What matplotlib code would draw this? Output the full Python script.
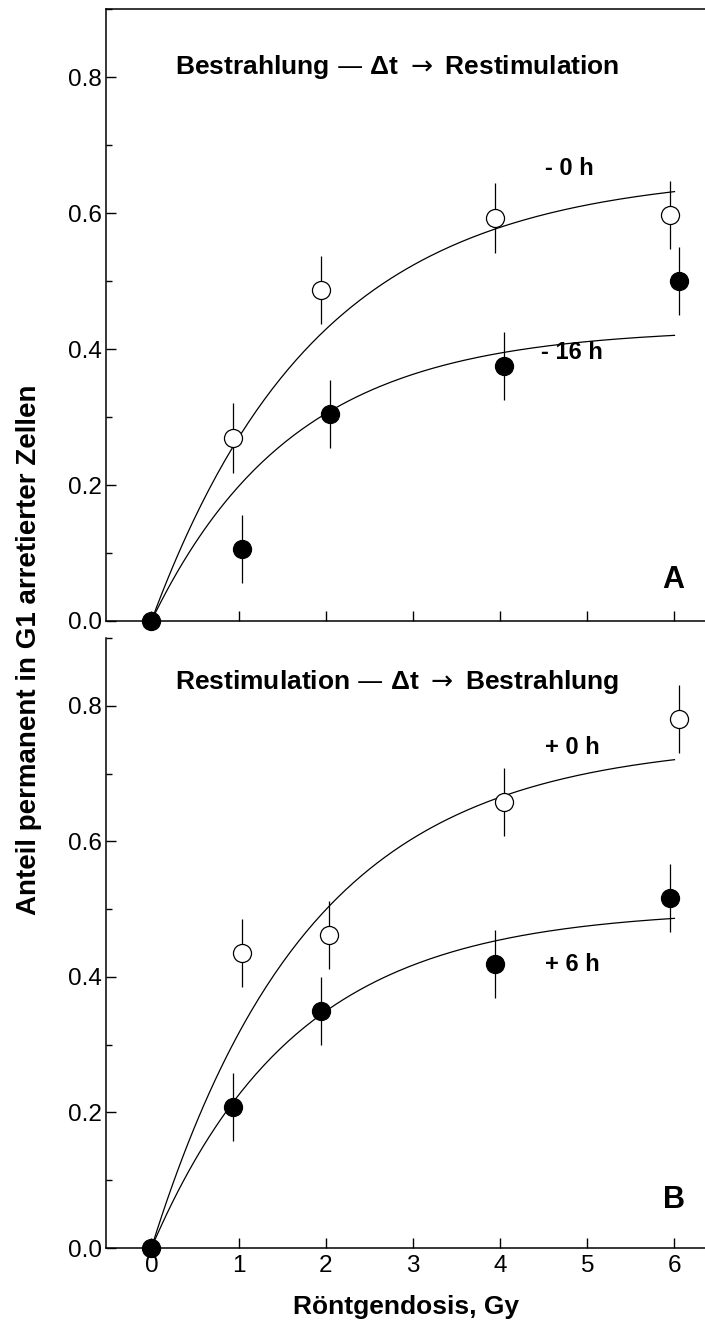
import numpy as np
import matplotlib.pyplot as plt

plt.rcParams['font.family'] = ['Liberation Sans', 'DejaVu Sans']

# panel A: Bestrahlung -> Restimulation
a_open_x = [0.94, 1.95, 3.94, 5.95]
a_open_y = [0.269, 0.487, 0.593, 0.598]
a_open_err = [0.051, 0.05, 0.051, 0.05]
a_fill_x = [0.0, 1.04, 2.05, 4.05, 6.05]
a_fill_y = [0.0, 0.106, 0.305, 0.375, 0.50]
a_fill_err = [0.0, 0.05, 0.05, 0.05, 0.05]
# fitted saturation curves y = amp * (1 - exp(-rate * dose))
a_open_fit = (0.66, 0.525)
a_fill_fit = (0.431, 0.615)

# panel B: Restimulation -> Bestrahlung
b_open_x = [1.04, 2.04, 4.05, 6.05]
b_open_y = [0.435, 0.462, 0.658, 0.78]
b_open_err = [0.05, 0.05, 0.05, 0.05]
b_fill_x = [0.0, 0.94, 1.94, 3.94, 5.95]
b_fill_y = [0.0, 0.208, 0.35, 0.419, 0.516]
b_fill_err = [0.0, 0.05, 0.05, 0.05, 0.05]
b_open_fit = (0.748, 0.55)
b_fill_fit = (0.50, 0.60)

fig = plt.figure(figsize=(7.05, 13.26), dpi=100)
ax1 = fig.add_axes([0.1504, 0.5317, 0.8496, 0.4613])
ax2 = fig.add_axes([0.1504, 0.0588, 0.8496, 0.4601])

dose = np.linspace(0, 6, 200)


def draw(ax, ox, oy, oe, fx, fy, fe, ofit, ffit):
    ax.plot(dose, ofit[0] * (1 - np.exp(-ofit[1] * dose)), color='black', lw=0.9, zorder=2)
    ax.plot(dose, ffit[0] * (1 - np.exp(-ffit[1] * dose)), color='black', lw=0.9, zorder=2)
    ax.errorbar(ox, oy, yerr=oe, fmt='o', ms=13, mfc='white', mec='black', mew=0.9,
                ecolor='black', elinewidth=0.9, capsize=0, zorder=3, clip_on=False)
    ax.errorbar(fx, fy, yerr=fe, fmt='o', ms=13, mfc='black', mec='black', mew=0.9,
                ecolor='black', elinewidth=0.9, capsize=0, zorder=3, clip_on=False)
    ax.set_xlim(-0.52, 6.35)
    ax.set_ylim(0, 0.9)
    ax.set_xticks([0, 1, 2, 3, 4, 5, 6])
    ax.set_yticks([0.0, 0.2, 0.4, 0.6, 0.8])
    ax.set_yticks([0.1, 0.3, 0.5, 0.7, 0.9], minor=True)
    ax.yaxis.set_major_formatter(plt.FormatStrFormatter('%.1f'))
    ax.tick_params(which='major', direction='in', length=7, width=1, labelsize=17.5)
    ax.tick_params(which='minor', direction='in', length=4.5, width=1)
    ax.tick_params(axis='y', pad=3)
    ax.tick_params(axis='x', pad=5)
    ax.spines['right'].set_visible(False)
    for s in ['left', 'bottom', 'top']:
        ax.spines[s].set_linewidth(1.1)


draw(ax1, a_open_x, a_open_y, a_open_err, a_fill_x, a_fill_y, a_fill_err, a_open_fit, a_fill_fit)
draw(ax2, b_open_x, b_open_y, b_open_err, b_fill_x, b_fill_y, b_fill_err, b_open_fit, b_fill_fit)

ax1.tick_params(axis='x', labelbottom=False)
ax2.spines['top'].set_visible(False)

arrow = r'$\rightarrow$'
ax1.text(2.82, 0.815, 'Bestrahlung \u2014 \u0394t ' + arrow + ' Restimulation', ha='center', va='center',
         fontsize=19, fontweight='bold')
ax1.text(4.52, 0.666, '- 0 h', ha='left', va='center', fontsize=17, fontweight='bold')
ax1.text(4.47, 0.395, '- 16 h', ha='left', va='center', fontsize=17, fontweight='bold')
ax1.text(5.99, 0.06, 'A', ha='center', va='center', fontsize=22, fontweight='bold')

ax2.text(2.82, 0.835, 'Restimulation \u2014 \u0394t ' + arrow + ' Bestrahlung', ha='center', va='center',
         fontsize=19, fontweight='bold')
ax2.text(4.52, 0.738, '+ 0 h', ha='left', va='center', fontsize=17, fontweight='bold')
ax2.text(4.52, 0.418, '+ 6 h', ha='left', va='center', fontsize=17, fontweight='bold')
ax2.text(5.99, 0.071, 'B', ha='center', va='center', fontsize=22, fontweight='bold')

ax2.set_xlabel('R\u00f6ntgendosis, Gy', fontsize=19, fontweight='bold', labelpad=13)
fig.text(0.041, 0.51, 'Anteil permanent in G1 arretierter Zellen', rotation=90,
         ha='center', va='center', fontsize=20, fontweight='bold')

fig.savefig('out.png', dpi=100)
